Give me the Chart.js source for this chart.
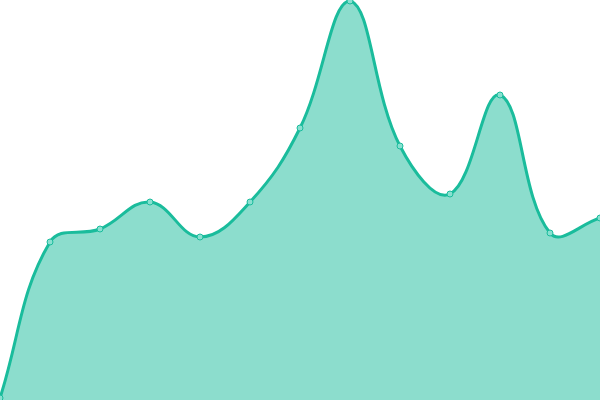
<!DOCTYPE html>
<html>
<head>
<meta charset="utf-8">
<style>
  html, body { margin: 0; padding: 0; background: #fff; }
  #wrap { width: 600px; height: 400px; }
</style>
<script src="https://cdn.jsdelivr.net/npm/chart.js@4"></script>
</head>
<body>
<div id="wrap"><canvas id="areaChart"></canvas></div>
<script>
// Valores (eixo y de 0 a 400)
const labels = ['1', '2', '3', '4', '5', '6', '7', '8', '9', '10', '11', '12', '13'];
const values = [2, 158, 171, 198, 163, 198, 272, 399, 254, 206, 305, 167, 182];

const ctx = document.getElementById('areaChart');
new Chart(ctx, {
    type: 'line',
    data: {
        labels: labels,
        datasets: [{
            data: values,
            fill: true,
            clip: false,
            backgroundColor: 'rgba(26, 188, 156, 0.5)',
            borderColor: 'rgb(26, 188, 156)',
            borderWidth: 3,
            tension: 0.4,
            pointRadius: 3,
            pointBorderWidth: 1,
            pointBackgroundColor: 'rgb(136, 224, 208)',
            pointBorderColor: 'rgb(26, 188, 156)'
        }]
    },
    options: {
        responsive: true,
        maintainAspectRatio: false,
        animation: false,
        layout: { padding: 0, autoPadding: false },
        plugins: { legend: { display: false }, tooltip: { enabled: false } },
        scales: {
            x: { display: false, offset: false },
            y: { display: false, min: 0, max: 400 }
        }
    }
});
</script>
</body>
</html>
